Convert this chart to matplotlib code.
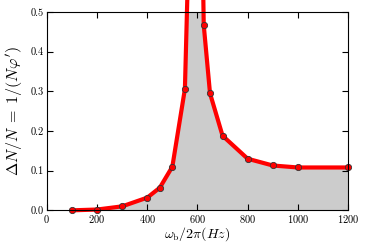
import matplotlib
matplotlib.use('Agg')
import matplotlib.pyplot as plt

plt.rcParams['font.family'] = 'serif'
plt.rcParams['font.serif'] = ['cmr10', 'DejaVu Serif']
plt.rcParams['mathtext.fontset'] = 'cm'
plt.rcParams['axes.formatter.use_mathtext'] = True

# frequency (Hz) and relative fluctuation
freq = [100, 200, 300, 400, 450, 500, 550, 600, 625, 650, 700, 800, 900, 1000, 1200]
ratio = [0.0, 0.002, 0.01, 0.032, 0.057, 0.11, 0.306, 1.5, 0.467, 0.295, 0.188,
         0.13, 0.113, 0.108, 0.108]

fig = plt.figure(figsize=(3.66, 2.44), dpi=100)
ax = fig.add_axes([0.128, 0.138, 0.823, 0.813])

ax.fill_between(freq, ratio, 0, color='#cccccc', lw=0)
ax.plot(freq, ratio, color='red', lw=3, marker='o', ms=4.5,
        mfc='red', mec='#333333', mew=0.6, clip_on=False)

ax.set_xlim(0, 1200)
ax.set_ylim(0, 0.5)
ax.set_xticks([0, 200, 400, 600, 800, 1000, 1200])
ax.set_yticks([0.0, 0.1, 0.2, 0.3, 0.4, 0.5])
ax.set_yticklabels(['0.0', '0.1', '0.2', '0.3', '0.4', '0.5'])
ax.tick_params(direction='in', top=True, right=True, labelsize=7.5, length=4, pad=2)
ax.set_xlabel(r"$\omega_\mathrm{b}/2\pi(Hz)$", fontsize=10, labelpad=0)
ax.set_ylabel(r"$\Delta N/N\;=\;1/(N\varphi')$", fontsize=11.5, labelpad=4)

fig.savefig('out.png', dpi=100)
